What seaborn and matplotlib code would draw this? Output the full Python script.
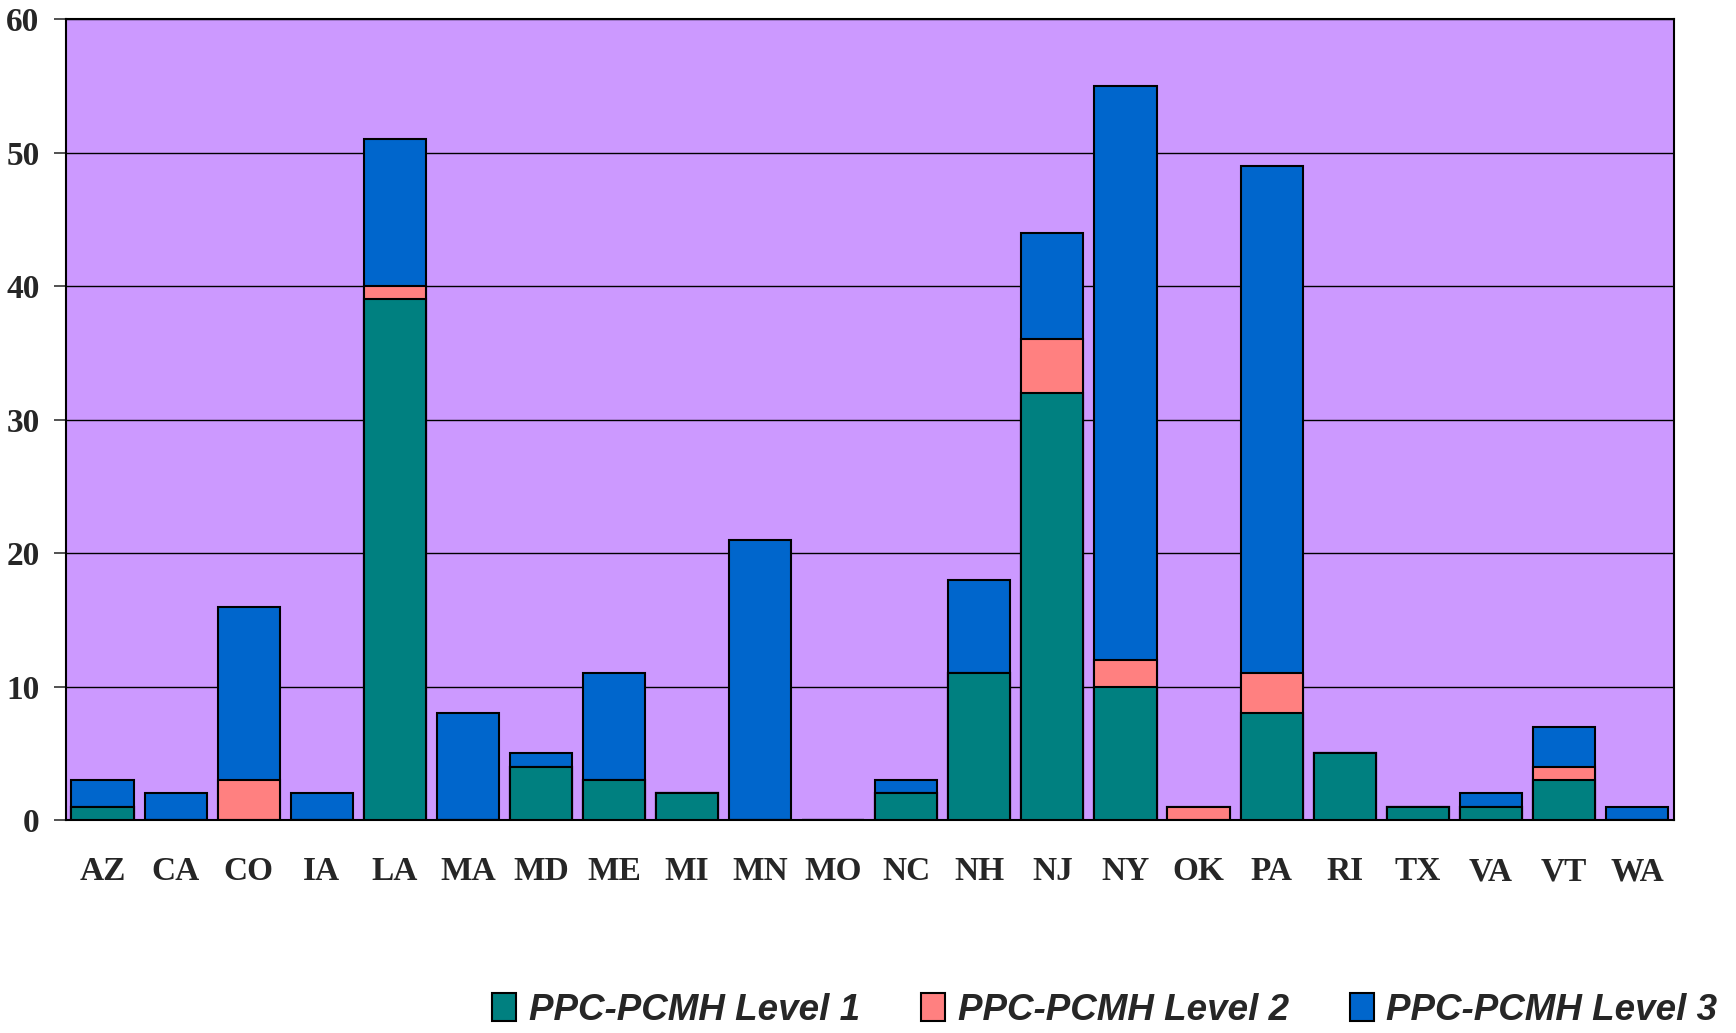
import numpy as np
import pandas as pd
import matplotlib
matplotlib.use("Agg")
import matplotlib.pyplot as plt
import seaborn as sns
from matplotlib.patches import Patch

states = ["AZ", "CA", "CO", "IA", "LA", "MA", "MD", "ME", "MI", "MN", "MO",
          "NC", "NH", "NJ", "NY", "OK", "PA", "RI", "TX", "VA", "VT", "WA"]
level1 = [1, 0, 0, 0, 39, 0, 4, 3, 2, 0, 0, 2, 11, 32, 10, 0, 8, 5, 1, 1, 3, 0]
level2 = [0, 0, 3, 0, 1, 0, 0, 0, 0, 0, 0, 0, 0, 4, 2, 1, 3, 0, 0, 0, 1, 0]
level3 = [2, 2, 13, 2, 11, 8, 1, 8, 0, 21, 0, 1, 7, 8, 43, 0, 38, 0, 0, 1, 3, 1]
series_names = ["PPC-PCMH Level 1", "PPC-PCMH Level 2", "PPC-PCMH Level 3"]
colors = ["#008080", "#FF8080", "#0066CC"]
yticks = [0, 10, 20, 30, 40, 50, 60]

df = pd.DataFrame({"state": states, "l1": level1, "l2": level2, "l3": level3})
df["c1"] = df["l1"]
df["c2"] = df["l1"] + df["l2"]
df["c3"] = df["l1"] + df["l2"] + df["l3"]

sns.set_theme(style="white")
plt.rcParams["font.family"] = ["Liberation Serif", "DejaVu Sans"]

fig = plt.figure(figsize=(17.36, 10.33), dpi=100)
ax = fig.add_axes([0.038, 0.206, 0.926, 0.7756])
ax.set_facecolor("#CC99FF")

for col, color in zip(["c3", "c2", "c1"], colors[::-1]):
    sns.barplot(data=df, x="state", y=col, color=color, width=0.85,
                edgecolor="black", linewidth=1.5, saturation=1, ax=ax, zorder=3)

ax.set_xlim(-0.5, len(states) - 0.5)
ax.set_ylim(0, 60)
ax.set_yticks(yticks)
ax.set_yticklabels([str(t) for t in yticks], fontsize=24, fontweight="bold",
                   family=["Liberation Serif"])
ax.set_xticks(range(len(states)))
ax.set_xticklabels(states, fontsize=24, fontweight="bold", family=["Liberation Serif"])
ax.set_xlabel("")
ax.set_ylabel("")
ax.yaxis.grid(True, color="black", linewidth=1.0)
ax.set_axisbelow(True)
ax.tick_params(axis="y", which="both", length=9, width=1.2, color="#333333",
               pad=10, left=True)
ax.tick_params(axis="x", length=0, pad=26)
for s in ax.spines.values():
    s.set_color("black")
    s.set_linewidth(1.5)
    s.set_visible(True)

handles = [Patch(facecolor=c, edgecolor="black", linewidth=1.5) for c in colors]
fig.legend(handles, series_names, loc="lower right", bbox_to_anchor=(1.0, -0.013),
           ncol=3, frameon=False, handlelength=0.65, handleheight=0.8,
           handletextpad=0.35, columnspacing=1.65, borderaxespad=0.1,
           prop={"family": "Liberation Sans", "weight": "bold",
                 "style": "italic", "size": 26.5})

fig.savefig("out.png", dpi=100)
